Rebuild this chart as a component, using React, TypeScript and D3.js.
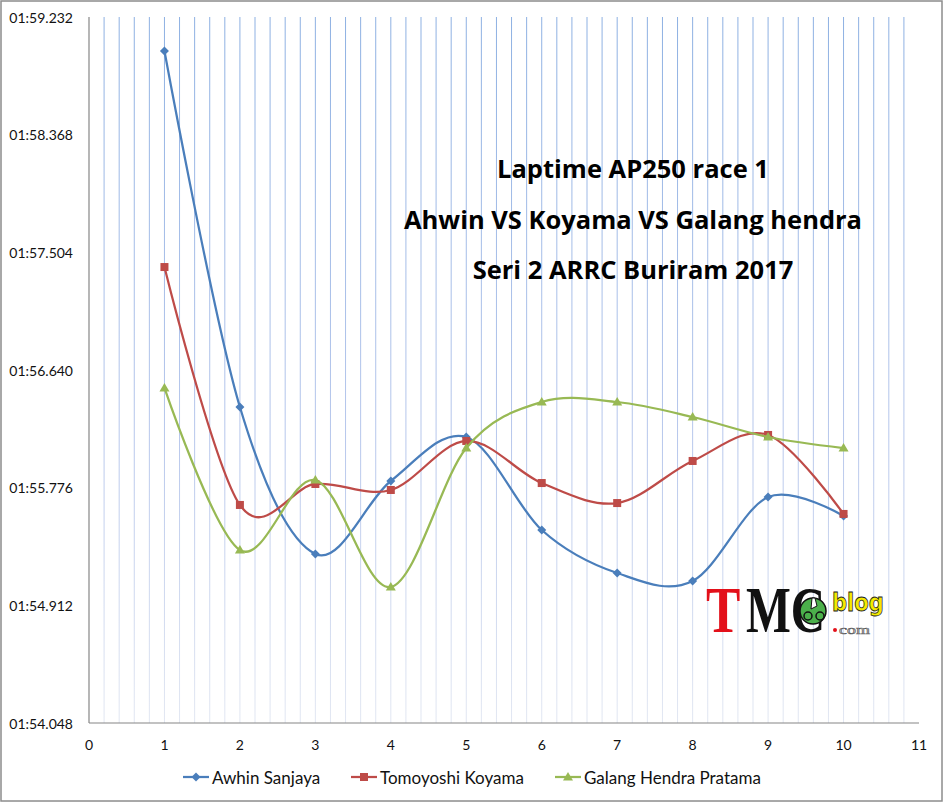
import React from "react";
import * as d3 from "d3";

const laps = [1, 2, 3, 4, 5, 6, 7, 8, 9, 10];
const awhin = [118.982, 116.368, 115.289, 115.825, 116.148, 115.465, 115.149, 115.091, 115.707, 115.568];
const koyama = [117.396, 115.649, 115.803, 115.759, 116.119, 115.81, 115.663, 115.972, 116.163, 115.583];
const galang = [116.508, 115.318, 115.832, 115.047, 116.067, 116.405, 116.405, 116.295, 116.148, 116.067];
const yTicks = [114.048, 114.912, 115.776, 116.64, 117.504, 118.368, 119.232];
const xTicks = [0, 1, 2, 3, 4, 5, 6, 7, 8, 9, 10, 11];
const seriesNames = ["Awhin Sanjaya", "Tomoyoshi Koyama", "Galang Hendra Pratama"];
const titleLines = ["Laptime AP250 race 1", "Ahwin VS Koyama VS Galang hendra", "Seri 2 ARRC Buriram 2017"];

const W = 943;
const H = 803;
const left = 89, right = 919, top = 17, bottom = 723;

const fmt = (s: number) => {
  const ms = Math.round(s * 1000);
  const m = Math.floor(ms / 60000);
  const rem = ms - m * 60000;
  const sec = Math.floor(rem / 1000);
  const milli = rem % 1000;
  return `${String(m).padStart(2, "0")}:${String(sec).padStart(2, "0")}.${String(milli).padStart(3, "0")}`;
};

export default function App() {
  const x = d3.scaleLinear().domain([0, 11]).range([left, right]);
  const y = d3.scaleLinear().domain([yTicks[0], yTicks[yTicks.length - 1]]).range([bottom, top]);
  const line = d3
    .line<number>()
    .x((_, i) => x(laps[i]))
    .y((d) => y(d))
    .curve(d3.curveCardinal.tension(0));

  const minor = d3.range(0, 55).map((i) => i * 0.2).filter((v) => v > 0.01);
  const series = [
    { name: seriesNames[0], data: awhin, color: "#4a7ebb", marker: "diamond" },
    { name: seriesNames[1], data: koyama, color: "#be4b48", marker: "square" },
    { name: seriesNames[2], data: galang, color: "#98b954", marker: "triangle" },
  ];
  const marker = (type: string, cx: number, cy: number, color: string, key: any) => {
    if (type === "diamond")
      return <path key={key} d={`M${cx},${cy - 4.5}L${cx + 4.5},${cy}L${cx},${cy + 4.5}L${cx - 4.5},${cy}Z`} fill={color} />;
    if (type === "square") return <rect key={key} x={cx - 4} y={cy - 4} width={8} height={8} fill={color} />;
    return <path key={key} d={`M${cx},${cy - 5}L${cx + 5},${cy + 3.5}L${cx - 5},${cy + 3.5}Z`} fill={color} />;
  };
  const legendX = [183, 351, 555];
  const font = "Lato, 'Open Sans', sans-serif";

  return (
    <svg width={W} height={H} style={{ position: "fixed", left: 0, top: 0, background: "#fff" }} fontFamily={font}>
      <defs>
        <linearGradient id="gridg" gradientUnits="userSpaceOnUse" x1={0} y1={top} x2={0} y2={bottom}>
          <stop offset="0" stopColor="#8db0e2" />
          <stop offset="0.6" stopColor="#b7c7ec" />
          <stop offset="1" stopColor="#e2e7f2" />
        </linearGradient>
      </defs>
      <rect x={1} y={1} width={941} height={800} fill="#fff" stroke="#8c8c8c" strokeWidth={1.5} />
      {minor.map((v) => (
        <line key={v} x1={x(v)} x2={x(v)} y1={top} y2={bottom} stroke="url(#gridg)" strokeWidth={1} />
      ))}
      <line x1={left} x2={left} y1={top} y2={bottom} stroke="#868686" strokeWidth={1.2} />
      <line x1={left} x2={right} y1={bottom} y2={bottom} stroke="#868686" strokeWidth={1.2} />
      {yTicks.map((t) => (
        <text key={t} x={73} y={y(t)} textAnchor="end" dominantBaseline="central" fontSize={14} fill="#111">
          {fmt(t)}
        </text>
      ))}
      {xTicks.map((t) => (
        <text key={t} x={x(t)} y={744} textAnchor="middle" dominantBaseline="central" fontSize={14} fill="#111">
          {t}
        </text>
      ))}
      {titleLines.map((l, i) => (
        <text
          key={l}
          x={633}
          y={178 + i * 50.5}
          textAnchor="middle"
          fontSize={25.5}
          fontWeight={700}
          fontFamily="'Open Sans', sans-serif"
          fill="#000"
        >
          {l}
        </text>
      ))}
      {series.map((s) => (
        <g key={s.name}>
          <path d={line(s.data) || ""} fill="none" stroke={s.color} strokeWidth={2.25} />
          {s.data.map((v, i) => marker(s.marker, x(laps[i]), y(v), s.color, i))}
        </g>
      ))}
      {series.map((s, i) => (
        <g key={s.name}>
          <line x1={legendX[i]} x2={legendX[i] + 26} y1={777} y2={777} stroke={s.color} strokeWidth={2.25} />
          {marker(s.marker, legendX[i] + 13, 777, s.color, "m")}
          <text x={legendX[i] + 29} y={777} dominantBaseline="central" fontSize={17} fill="#111">
            {s.name}
          </text>
        </g>
      ))}
      <g>
        <g transform="translate(706,632) scale(0.78,1)">
          <text fontFamily="'Liberation Serif', serif" fontWeight={700} fontSize={66} fill="#e3101a">T</text>
        </g>
        <g transform="translate(746,632) scale(0.72,1)">
          <text fontFamily="'Liberation Serif', serif" fontWeight={700} fontSize={66} fill="#111">MC</text>
        </g>
        <circle cx={813} cy={611} r={13} fill="#4bb04b" stroke="#111" strokeWidth={1.5} />
        <circle cx={808} cy={616} r={4} fill="none" stroke="#111" strokeWidth={1.5} />
        <circle cx={820} cy={616} r={4} fill="none" stroke="#111" strokeWidth={1.5} />
        <path d="M812,598 l3,0 l2,8 l-6,3z" fill="#fff" stroke="#111" strokeWidth={1} />
        <g transform="translate(832,611) scale(0.88,1)">
          <text fontFamily="'DejaVu Sans', sans-serif" fontWeight={700} fontSize={24} fill="#f4ea00" stroke="#222" strokeWidth={0.8}>blog</text>
        </g>
        <circle cx={835} cy={630} r={2} fill="#e3101a" />
        <g transform="translate(839,634) scale(1.5,1)">
          <text fontFamily="'Liberation Serif', serif" fontSize={12} fill="#d8d8d8" stroke="#555" strokeWidth={0.5}>com</text>
        </g>
      </g>
    </svg>
  );
}
